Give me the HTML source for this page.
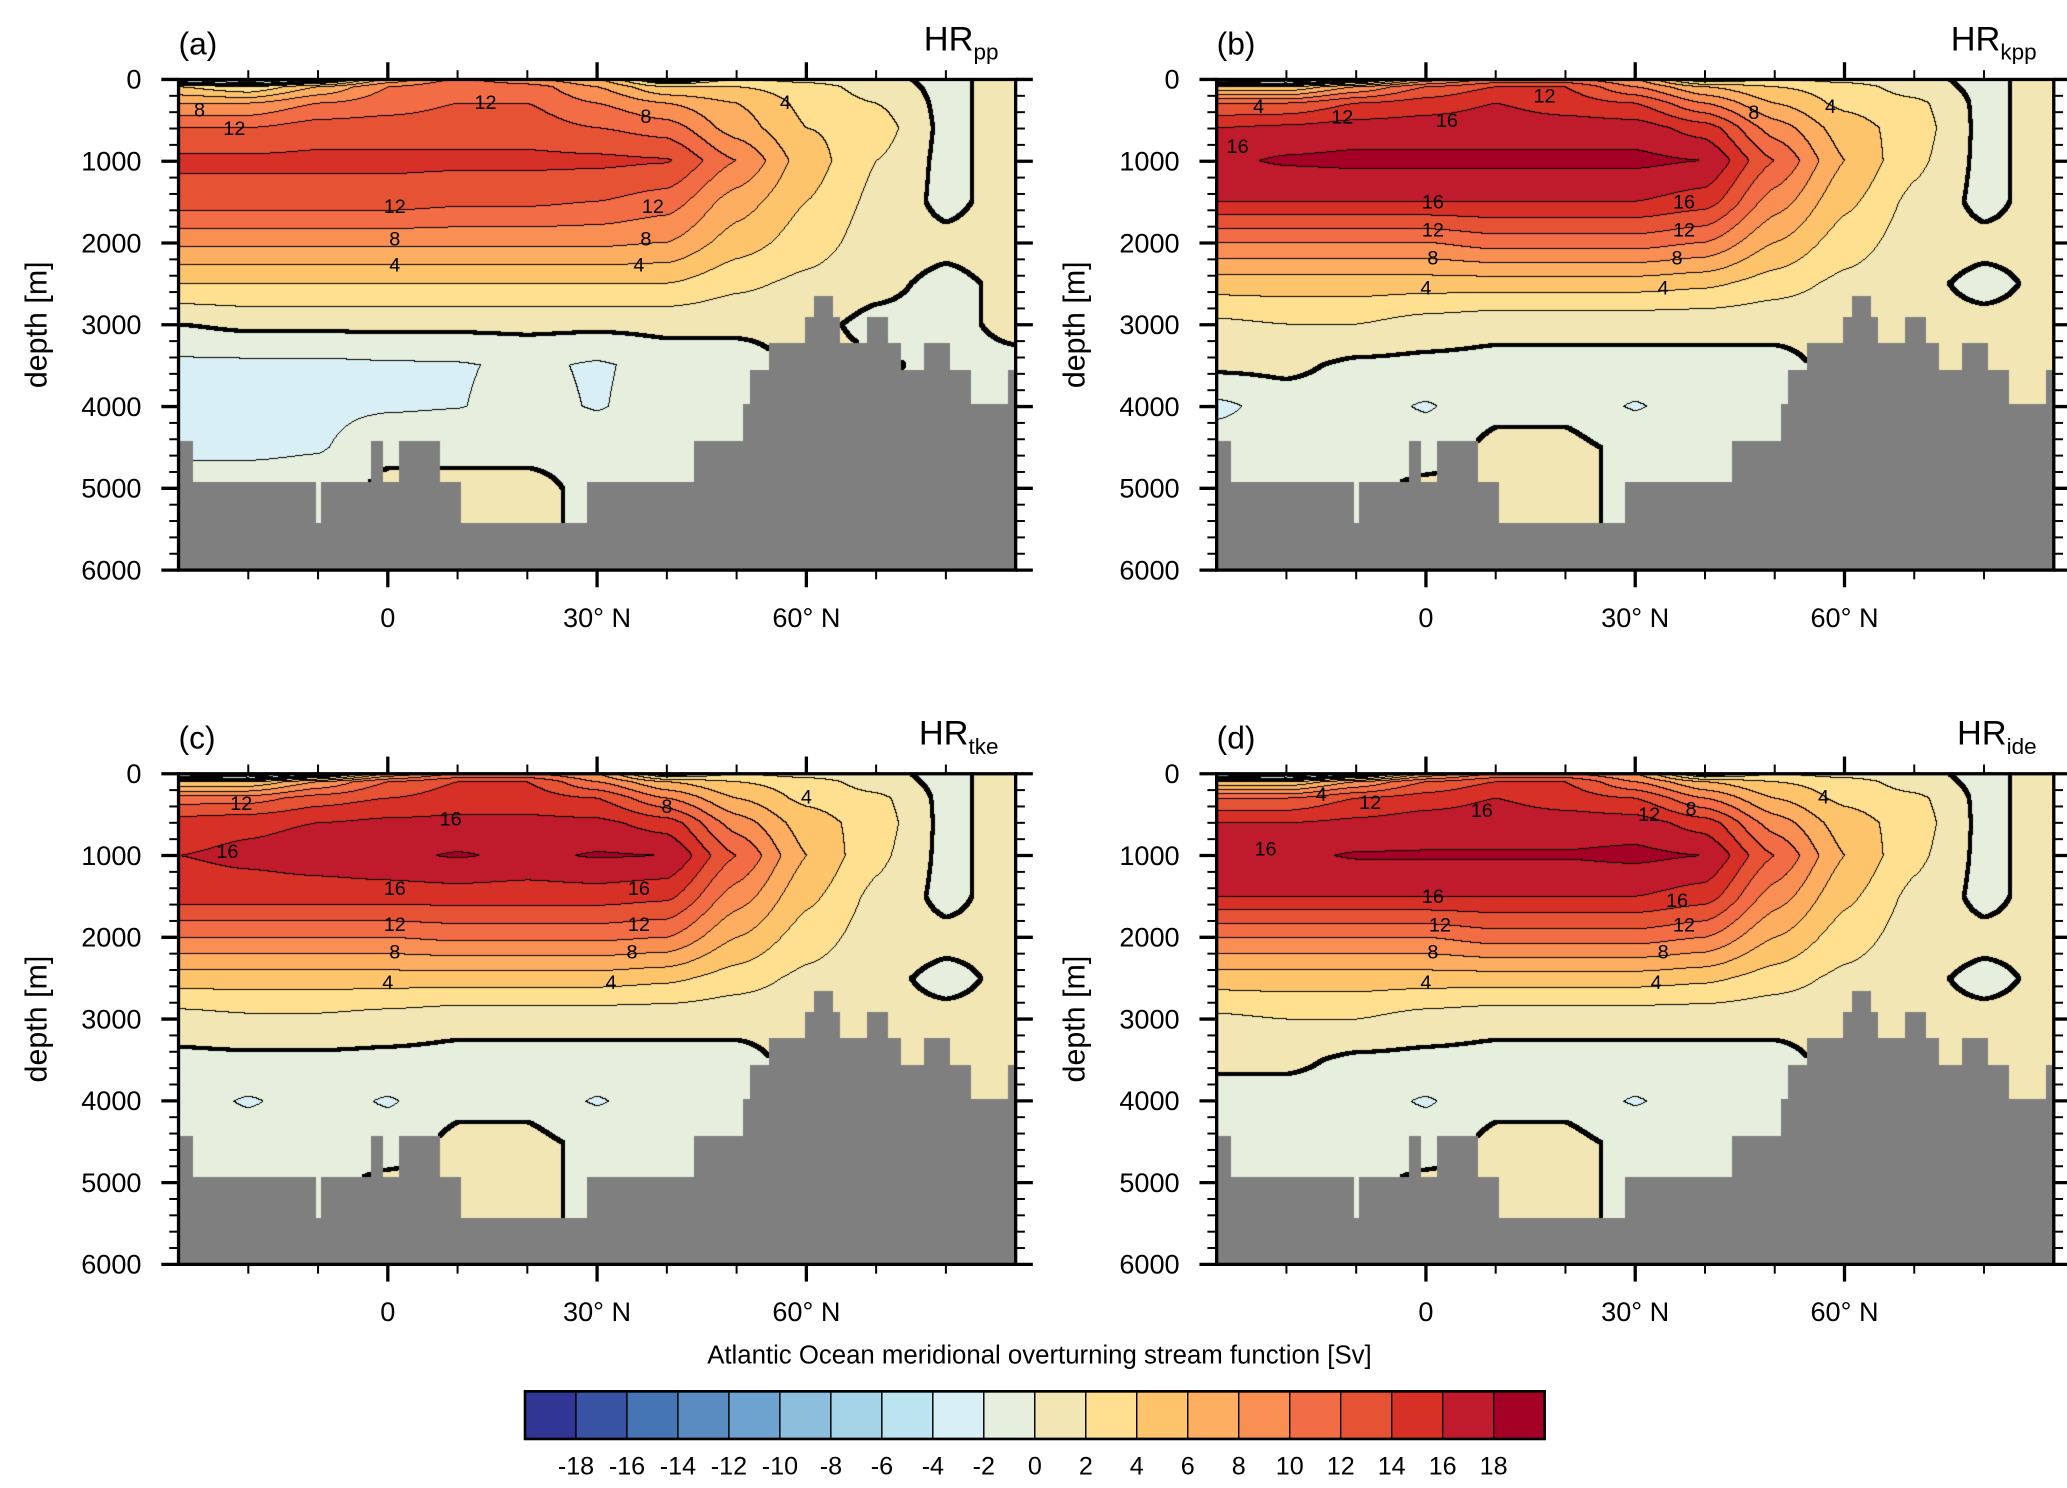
<!DOCTYPE html>
<html><head><meta charset="utf-8"><style>
html,body{margin:0;padding:0;background:#fff}
#root{position:relative;width:2067px;height:1488px;overflow:hidden;background:#fff}
canvas{position:absolute}
svg{position:absolute;left:0;top:0}
text{font-family:"Liberation Sans",sans-serif;fill:#000}
</style></head><body>
<div id="root">
<svg id="ov" width="2067" height="1488" viewBox="0 0 1563 1125"></svg>
</div>
<script>
// ---- data ----
const lats = [-30,-20,-10,0,10,20,30,40,50,60,70,80,90];
const depths = [0,100,300,600,1000,1500,2000,2500,3000,3500,4000,4500,5000,5500,6000];
const fieldA = [
[-6,-10,-4,6,10,8,6,-2,2,1,0.5,-0.5,1],
[4,2,6,10,12,11,8,4,4,3,1,-0.5,1],
[8,8,10,11,12,12,10,8,6,3.5,2,-0.5,1],
[12,12,13,13,13,13,12,11,7,4,3,-0.5,1],
[14.5,14.5,14.5,14.5,14.5,14.5,14.5,14.2,10,5,2,-0.5,1],
[13,13,13,13,12.5,12.5,12,11,7,4,1.5,-0.5,1],
[8.5,8.5,8.5,8.5,8.5,8.5,8.5,8,5,3,1,0.5,1],
[4,4,4,4,4,4,4,4,2.5,1.5,0.5,-0.5,0.5],
[0,0.5,0.5,0.5,0.5,0.5,0.5,0.5,0.5,0.5,-0.5,-0.5,0.5],
[-2.5,-2.5,-2.5,-2.3,-2.2,-1.5,-2.3,-1,-1,0.5,0.3,-0.5,-0.5],
[-2.5,-2.5,-2.5,-2.3,-2.1,-1,-2.2,-0.5,-0.5,-0.5,-0.5,-0.5,-0.5],
[-2.5,-2.5,-2.2,-0.5,-0.5,-0.5,-0.5,-0.5,-0.5,-0.5,-0.5,-0.5,-0.5],
[-1,-1,-1,0.5,0.5,0.5,-0.5,-0.5,-0.5,-0.5,-0.5,-0.5,-0.5],
[-1,-1,-1,-0.5,0.5,0.5,-0.5,-0.5,-0.5,-0.5,-0.5,-0.5,-0.5],
[-1,-1,-1,-0.5,0.5,0.5,-0.5,-0.5,-0.5,-0.5,-0.5,-0.5,-0.5]];
const fieldB = [
[-8,-10,-4,6,10,10,8,-1,2,1,0.5,-0.5,1],
[4,4,8,12,14,14,10,6,4,3,1,-0.5,1],
[12,12,14,15,16,15,14,10,6,3.5,2.5,-0.5,1],
[16,16.5,17,17,17,17,17,15,9,5,3,-0.5,1],
[17.5,18.3,18.5,18.5,18.5,18.5,18.5,18,12,6,2.5,-0.5,1],
[16,16,16,16,16,16,16,15,9,4.5,1.5,-0.5,1],
[10,10,10,10,11,11,11,10,6,3,1,0.5,0.5],
[5,5,5,5,5,5,5,4.5,3,1.5,0.5,-0.5,0.5],
[1.5,2,2,1,0.5,0.5,0.5,0.5,0.5,0.5,0.5,0.5,0.5],
[0.5,0.5,-0.5,-0.5,-0.5,-0.5,-0.5,-0.5,-0.5,0.5,0.5,0.5,0.5],
[-2.5,-1,-1,-2.2,-0.5,-0.5,-2.2,-0.5,-0.5,0.5,-0.5,0.5,0.5],
[-1,-1,-1,-1,0.5,0.5,-0.5,-0.5,-0.5,-0.5,-0.5,0.5,0.5],
[-0.5,-0.5,-0.5,0.5,0.5,0.5,-0.5,-0.5,-0.5,-0.5,-0.5,0.5,0.5],
[-0.5,-0.5,-0.5,0.5,0.5,0.5,-0.5,-0.5,-0.5,-0.5,-0.5,0.5,0.5],
[-0.5,-0.5,-0.5,0.5,0.5,0.5,-0.5,-0.5,-0.5,-0.5,-0.5,0.5,0.5]];
const fieldC = [
[-8,-10,-4,6,10,10,8,-1,2,1,0.5,-0.5,1],
[4,4,8,12,14,14,10,6,4,3,1,-0.5,1],
[11,11,13,14,15,15,14,10,6,3.5,2.5,-0.5,1],
[15,15.5,16,16.5,16.5,16.5,16.5,15,9,5,3,-0.5,1],
[16,16.5,17,17.5,18.2,17.5,18.2,18,12,6,2.5,-0.5,1],
[15,15,15,15,15,15,15,14.5,9,4.5,1.5,-0.5,1],
[10,10,10,10,10.5,10.5,10.5,10,6,3,1,0.5,0.5],
[5,5,5,5,5,5,5,4.5,3,1.5,0.5,-0.5,0.5],
[1,1.5,1.5,1,0.5,0.5,0.5,0.5,0.5,0.5,0.5,0.5,0.5],
[-0.5,-0.5,-0.5,-0.5,-0.5,-0.5,-0.5,-0.5,-0.5,0.5,0.5,0.5,0.5],
[-1,-2.2,-1,-2.2,-0.5,-0.5,-2.2,-0.5,-0.5,0.5,-0.5,0.5,0.5],
[-1,-1,-1,-1,0.5,0.5,-0.5,-0.5,-0.5,-0.5,-0.5,0.5,0.5],
[-0.5,-0.5,-0.5,0.5,0.5,0.5,-0.5,-0.5,-0.5,-0.5,-0.5,0.5,0.5],
[-0.5,-0.5,-0.5,0.5,0.5,0.5,-0.5,-0.5,-0.5,-0.5,-0.5,0.5,0.5],
[-0.5,-0.5,-0.5,0.5,0.5,0.5,-0.5,-0.5,-0.5,-0.5,-0.5,0.5,0.5]];
const fieldD = [
[-8,-10,-4,6,10,10,8,-1,2,1,0.5,-0.5,1],
[4,4,8,12,14,14,10,6,4,3,1,-0.5,1],
[12,12,14,15,16,15,14,10,6,3.5,2.5,-0.5,1],
[16,16,16.5,17,17,17,17,15,9,5,3,-0.5,1],
[17,17.5,18.2,18.2,18.2,18.2,18.5,18,12,6,2.5,-0.5,1],
[16,16,16,16,16,16,16,15,9,4.5,1.5,-0.5,1],
[10,10,10,10,11,11,11,10,6,3,1,0.5,0.5],
[5,5,5,5,5,5,5,4.5,3,1.5,0.5,-0.5,0.5],
[1.5,2,2,1,0.5,0.5,0.5,0.5,0.5,0.5,0.5,0.5,0.5],
[0.5,0.5,-0.5,-0.5,-0.5,-0.5,-0.5,-0.5,-0.5,0.5,0.5,0.5,0.5],
[-1,-1,-1,-2.2,-0.5,-0.5,-2.2,-0.5,-0.5,0.5,-0.5,0.5,0.5],
[-1,-1,-1,-1,0.5,0.5,-0.5,-0.5,-0.5,-0.5,-0.5,0.5,0.5],
[-0.5,-0.5,-0.5,0.5,0.5,0.5,-0.5,-0.5,-0.5,-0.5,-0.5,0.5,0.5],
[-0.5,-0.5,-0.5,0.5,0.5,0.5,-0.5,-0.5,-0.5,-0.5,-0.5,0.5,0.5],
[-0.5,-0.5,-0.5,0.5,0.5,0.5,-0.5,-0.5,-0.5,-0.5,-0.5,0.5,0.5]];
// bathymetry steps: [lat start, floor depth]
const bathyLat0 = [-30,-28,-10.4,-9.6,-2.5,-0.8,1.5,7.4,10.4,28.5,43.8,50.8,51.8,54.6,59.7,61,63.7,64.8,68.6,71.7,73.5,76.8,80.5,83.6,88.8];
const bathyDepth = [4420,4920,5420,4920,4420,4920,4420,4920,5420,4920,4420,3970,3560,3220,2910,2650,2910,3220,2910,3220,3560,3220,3560,3970,3560];
const cbLevels = [-18,-16,-14,-12,-10,-8,-6,-4,-2,0,2,4,6,8,10,12,14,16,18];
const cbColors = ["#313695","#3953a4","#4575b4","#5a8cc1","#6fa3cf","#8bbfdc","#a5d4e8","#bce3f0","#d9eff6","#e6eedd","#f2e6b4","#fee090","#fec46c","#fdae61","#f98f52","#f26c45","#e65234","#d73027","#bf1b2c","#a50026"];
const xTickVals = [0,30,60];
const xTickLabels = ["0","30\u00b0 N","60\u00b0 N"];
const yTickVals = [0,1000,2000,3000,4000,5000,6000];
const labelsA = [["8",-27,370],["12",-22,600],["12",14,280],["8",37,450],["4",57,280],["12",1,1550],["12",38,1550],["8",1,1950],["8",37,1950],["4",1,2270],["4",36,2270]];
const labelsB = [["4",-24,330],["12",-12,460],["16",3,500],["12",17,200],["8",47,400],["4",58,330],["16",-27,820],["16",1,1500],["16",37,1500],["12",1,1840],["12",37,1840],["8",1,2180],["8",36,2180],["4",0,2550],["4",34,2550]];
const labelsC = [["12",-21,360],["16",-23,950],["16",9,550],["8",40,400],["4",60,280],["16",1,1400],["16",36,1400],["12",1,1840],["12",36,1840],["8",1,2180],["8",35,2180],["4",0,2550],["4",32,2550]];
const labelsD = [["4",-15,250],["12",-8,350],["16",8,450],["12",32,500],["8",38,430],["4",57,280],["16",-23,920],["16",1,1500],["16",36,1550],["12",2,1850],["12",37,1850],["8",1,2180],["8",34,2180],["4",0,2550],["4",33,2550]];
const panels = [
 {id:"a",x:135,y:60,f:fieldA,lab:labelsA,sub:"pp"},
 {id:"b",x:920,y:60,f:fieldB,lab:labelsB,sub:"kpp"},
 {id:"c",x:135,y:585,f:fieldC,lab:labelsC,sub:"tke"},
 {id:"d",x:920,y:585,f:fieldD,lab:labelsD,sub:"ide"}];
// ---- rendering ----
const S = 2067/1563, PW = 633, PH = 371, LAT0=-30, LAT1=90, DMAX=6000;
const NS="http://www.w3.org/2000/svg";
const ov=document.getElementById('ov'), root=document.getElementById('root');
function el(tag,attrs,parent){const e=document.createElementNS(NS,tag);for(const k in attrs)e.setAttribute(k,attrs[k]);(parent||ov).appendChild(e);return e;}
function xs(p,lat){return p.x+(lat-LAT0)/(LAT1-LAT0)*PW;}
function ys(p,d){return p.y+d/DMAX*PH;}
function floorAt(lat){let d=bathyDepth[0];for(let i=0;i<bathyLat0.length;i++){if(lat>=bathyLat0[i])d=bathyDepth[i];}return d;}
function hexRGB(h){return [parseInt(h.substr(1,2),16),parseInt(h.substr(3,2),16),parseInt(h.substr(5,2),16)];}
const rgb=cbColors.map(hexRGB);
function interp(f,lat,d){
 let i=Math.min(lats.length-2,Math.max(0,Math.floor((lat-lats[0])/10)));
 let tx=(lat-lats[i])/(lats[i+1]-lats[i]);tx=Math.max(0,Math.min(1,tx));
 let j=0;while(j<depths.length-2&&d>depths[j+1])j++;
 let ty=(d-depths[j])/(depths[j+1]-depths[j]);ty=Math.max(0,Math.min(1,ty));
 tx=tx*tx*(3-2*tx)*0.5+tx*0.5;
 const a=f[j][i],b=f[j][i+1],c=f[j+1][i],e=f[j+1][i+1];
 return (a*(1-tx)+b*tx)*(1-ty)+(c*(1-tx)+e*tx)*ty;}
function band(v){let k=Math.floor(v/2)+10;return Math.max(0,Math.min(19,k));}
panels.forEach(p=>{
 const L=Math.round(p.x*S),T=Math.round(p.y*S),W=Math.round(PW*S),H=Math.round(PH*S);
 const cv=document.createElement('canvas');cv.width=W;cv.height=H;cv.style.left=L+'px';cv.style.top=T+'px';
 
 
 root.insertBefore(cv,ov);
 const ctx=cv.getContext('2d');const img=ctx.createImageData(W,H);
 const B=new Int8Array(W*H);
 for(let py=0;py<H;py++){const d=(py+0.5)/H*DMAX;
  for(let px=0;px<W;px++){const lat=LAT0+(px+0.5)/W*(LAT1-LAT0);
   if(d>floorAt(lat)){B[py*W+px]=-1;}else{B[py*W+px]=band(interp(p.f,lat,d));}}}
 for(let py=0;py<H;py++)for(let px=0;px<W;px++){
  const k=B[py*W+px],o=(py*W+px)*4;let c;
  if(k<0)c=[127,127,127];else{
   let line=0;
   const r=px+1<W?B[py*W+px+1]:k,dn=py+1<H?B[(py+1)*W+px]:k;
   if((r>=0&&r!==k)||(dn>=0&&dn!==k))line=1;
   if(!line&&(k===9||k===10)){
    for(let dy=-2;dy<=2&&!line;dy++)for(let dx=-2;dx<=2;dx++){const xx=px+dx,yy=py+dy;if(xx<0||yy<0||xx>=W||yy>=H)continue;const q=B[yy*W+xx];if(q>=0&&((k===9&&q===10)||(k===10&&q===9))){line=1;break;}}}
   c=line?[0,0,0]:rgb[k];}
  img.data[o]=c[0];img.data[o+1]=c[1];img.data[o+2]=c[2];img.data[o+3]=255;}
 ctx.putImageData(img,0,0);
 const g=el('g',{});
 
 
 p.lab.forEach(l=>{const t=el('text',{x:xs(p,l[1]),y:ys(p,l[2])+5,'font-size':15,'text-anchor':'middle'},g);t.textContent=l[0];
  
  });
 const fr=el('rect',{x:p.x,y:p.y,width:PW,height:PH,fill:'none',stroke:'#000','stroke-width':2.5},g);
 
 
 for(let d=0;d<=6000;d+=200){const maj=d%1000===0,len=maj?13:7,y=ys(p,d);
  el('line',{x1:p.x-len,x2:p.x,y1:y,y2:y,stroke:'#000','stroke-width':maj?2.5:1.5},g);
  el('line',{x1:p.x+PW,x2:p.x+PW+len,y1:y,y2:y,stroke:'#000','stroke-width':maj?2.5:1.5},g);}
 yTickVals.forEach(v=>{const t=el('text',{x:p.x-28,y:ys(p,v)+7,'font-size':20.5,'text-anchor':'end'},g);t.textContent=v;
  
  });
 for(let lat=-20;lat<=80;lat+=10){const maj=lat%30===0,len=maj?13:7,x=xs(p,lat);
  el('line',{x1:x,x2:x,y1:p.y-len,y2:p.y,stroke:'#000','stroke-width':maj?2.5:1.5},g);
  el('line',{x1:x,x2:x,y1:p.y+PH,y2:p.y+PH+len,stroke:'#000','stroke-width':maj?2.5:1.5},g);}
 xTickVals.forEach((v,i)=>{const t=el('text',{x:xs(p,v),y:p.y+PH+43,'font-size':20.5,'text-anchor':'middle'},g);t.textContent=xTickLabels[i];
  
  });
 const yt=el('text',{x:0,y:0,'font-size':23,'text-anchor':'middle',transform:`translate(${p.x-100},${p.y+PH/2}) rotate(-90)`},g);yt.textContent='depth [m]';
 
 
 const pl=el('text',{x:p.x,y:p.y-19,'font-size':24},g);pl.textContent='('+p.id+')';
 
 
 const ti=el('text',{x:p.x+PW-13,y:p.y-22,'font-size':26,'text-anchor':'end'},g);
 
 
 const t1=el('tspan',{},ti);t1.textContent='HR';
 const t2=el('tspan',{'font-size':17,dy:7},ti);t2.textContent=p.sub;
});
const cb=el('g',{});


const cbX=397,cbW=771,cbY=1052,cbH=36,bw=cbW/cbColors.length;
cbColors.forEach((c,i)=>{const r=el('rect',{x:cbX+i*bw,y:cbY,width:bw,height:cbH,fill:c,stroke:'#000','stroke-width':1},cb);
 
 });
el('rect',{x:cbX,y:cbY,width:cbW,height:cbH,fill:'none',stroke:'#000','stroke-width':2},cb);
cbLevels.forEach((v,i)=>{const t=el('text',{x:cbX+(i+1)*bw,y:1115,'font-size':19,'text-anchor':'middle'},cb);t.textContent=v;
 
 });
const ct=el('text',{x:786,y:1031,'font-size':19.5,'text-anchor':'middle'});ct.textContent='Atlantic Ocean meridional overturning stream function [Sv]';


</script>
</body></html>
